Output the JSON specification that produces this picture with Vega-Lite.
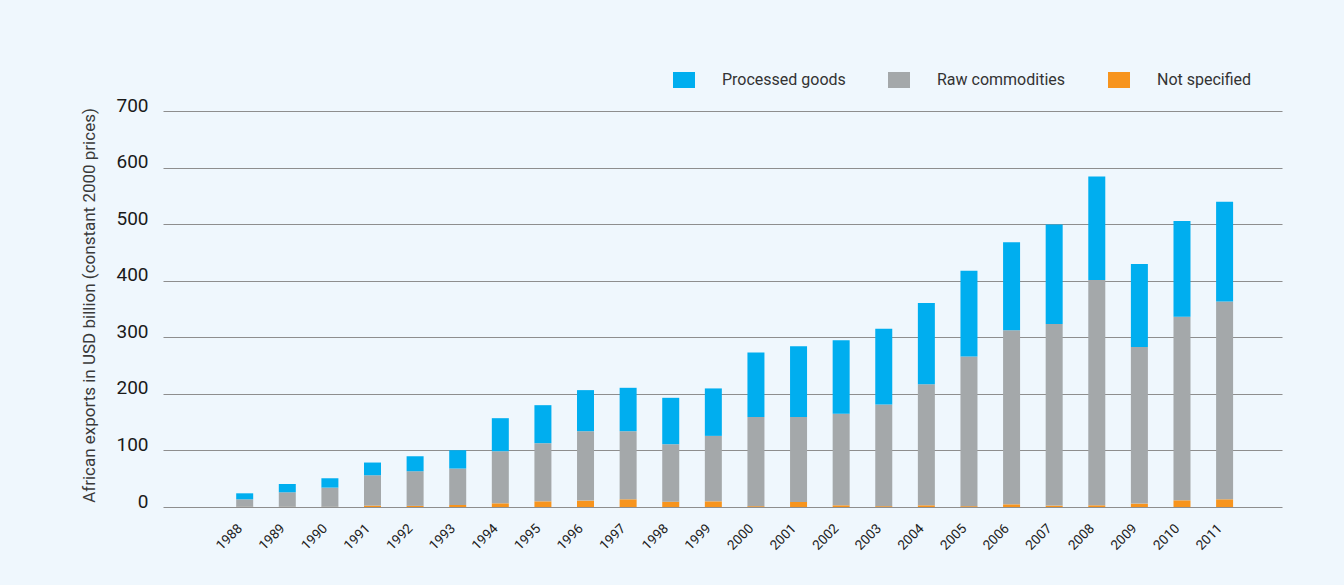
{
  "$schema": "https://vega.github.io/schema/vega-lite/v6.json",
  "autosize": {"type": "none"},
  "width": 1119,
  "height": 396,
  "padding": {"left": 163, "top": 111, "right": 62, "bottom": 78},
  "background": "#eff7fd",
  "config": {
    "view": {"stroke": null},
    "font": "Roboto"
  },
  "data": {
    "values": [
      {"year": 1988, "type": "Not specified", "value": 0.3},
      {"year": 1988, "type": "Raw commodities", "value": 13.3},
      {"year": 1988, "type": "Processed goods", "value": 10.6},
      {"year": 1989, "type": "Not specified", "value": 0.3},
      {"year": 1989, "type": "Raw commodities", "value": 25.7},
      {"year": 1989, "type": "Processed goods", "value": 14.7},
      {"year": 1990, "type": "Not specified", "value": 0.3},
      {"year": 1990, "type": "Raw commodities", "value": 34.0},
      {"year": 1990, "type": "Processed goods", "value": 16.5},
      {"year": 1991, "type": "Not specified", "value": 2.5},
      {"year": 1991, "type": "Raw commodities", "value": 53.6},
      {"year": 1991, "type": "Processed goods", "value": 22.5},
      {"year": 1992, "type": "Not specified", "value": 2.0},
      {"year": 1992, "type": "Raw commodities", "value": 61.2},
      {"year": 1992, "type": "Processed goods", "value": 26.5},
      {"year": 1993, "type": "Not specified", "value": 3.5},
      {"year": 1993, "type": "Raw commodities", "value": 64.5},
      {"year": 1993, "type": "Processed goods", "value": 32.4},
      {"year": 1994, "type": "Not specified", "value": 6.5},
      {"year": 1994, "type": "Raw commodities", "value": 92.1},
      {"year": 1994, "type": "Processed goods", "value": 58.4},
      {"year": 1995, "type": "Not specified", "value": 10.0},
      {"year": 1995, "type": "Raw commodities", "value": 102.8},
      {"year": 1995, "type": "Processed goods", "value": 67.2},
      {"year": 1996, "type": "Not specified", "value": 11.3},
      {"year": 1996, "type": "Raw commodities", "value": 122.7},
      {"year": 1996, "type": "Processed goods", "value": 72.6},
      {"year": 1997, "type": "Not specified", "value": 13.6},
      {"year": 1997, "type": "Raw commodities", "value": 120.4},
      {"year": 1997, "type": "Processed goods", "value": 76.7},
      {"year": 1998, "type": "Not specified", "value": 9.5},
      {"year": 1998, "type": "Raw commodities", "value": 101.5},
      {"year": 1998, "type": "Processed goods", "value": 82.0},
      {"year": 1999, "type": "Not specified", "value": 10.0},
      {"year": 1999, "type": "Raw commodities", "value": 115.7},
      {"year": 1999, "type": "Processed goods", "value": 83.9},
      {"year": 2000, "type": "Not specified", "value": 1.5},
      {"year": 2000, "type": "Raw commodities", "value": 157.8},
      {"year": 2000, "type": "Processed goods", "value": 114.0},
      {"year": 2001, "type": "Not specified", "value": 9.0},
      {"year": 2001, "type": "Raw commodities", "value": 150.0},
      {"year": 2001, "type": "Processed goods", "value": 125.0},
      {"year": 2002, "type": "Not specified", "value": 3.0},
      {"year": 2002, "type": "Raw commodities", "value": 162.0},
      {"year": 2002, "type": "Processed goods", "value": 129.6},
      {"year": 2003, "type": "Not specified", "value": 1.5},
      {"year": 2003, "type": "Raw commodities", "value": 179.8},
      {"year": 2003, "type": "Processed goods", "value": 133.7},
      {"year": 2004, "type": "Not specified", "value": 3.0},
      {"year": 2004, "type": "Raw commodities", "value": 213.8},
      {"year": 2004, "type": "Processed goods", "value": 143.8},
      {"year": 2005, "type": "Not specified", "value": 1.5},
      {"year": 2005, "type": "Raw commodities", "value": 264.7},
      {"year": 2005, "type": "Processed goods", "value": 151.6},
      {"year": 2006, "type": "Not specified", "value": 4.7},
      {"year": 2006, "type": "Raw commodities", "value": 307.6},
      {"year": 2006, "type": "Processed goods", "value": 155.7},
      {"year": 2007, "type": "Not specified", "value": 2.5},
      {"year": 2007, "type": "Raw commodities", "value": 320.9},
      {"year": 2007, "type": "Processed goods", "value": 175.8},
      {"year": 2008, "type": "Not specified", "value": 3.0},
      {"year": 2008, "type": "Raw commodities", "value": 398.3},
      {"year": 2008, "type": "Processed goods", "value": 182.9},
      {"year": 2009, "type": "Not specified", "value": 6.0},
      {"year": 2009, "type": "Raw commodities", "value": 276.7},
      {"year": 2009, "type": "Processed goods", "value": 146.9},
      {"year": 2010, "type": "Not specified", "value": 11.8},
      {"year": 2010, "type": "Raw commodities", "value": 324.5},
      {"year": 2010, "type": "Processed goods", "value": 169.4},
      {"year": 2011, "type": "Not specified", "value": 13.6},
      {"year": 2011, "type": "Raw commodities", "value": 349.8},
      {"year": 2011, "type": "Processed goods", "value": 176.0}
    ]
  },
  "transform": [
    {"calculate": "indexof(['Not specified', 'Raw commodities', 'Processed goods'], datum.type)", "as": "stackOrder"}
  ],
  "mark": {"type": "bar", "width": 17},
  "encoding": {
    "x": {
      "field": "year",
      "type": "quantitative",
      "scale": {"domain": [1986.2, 2012.23], "nice": false, "zero": false},
      "axis": {
        "title": null,
        "values": [1988, 1989, 1990, 1991, 1992, 1993, 1994, 1995, 1996, 1997, 1998, 1999, 2000, 2001, 2002, 2003, 2004, 2005, 2006, 2007, 2008, 2009, 2010, 2011],
        "format": "d",
        "labelAngle": -45,
        "labelAlign": "right",
        "labelBaseline": "middle",
        "labelPadding": 19,
        "labelOffset": -5,
        "labelFontSize": 13.5,
        "labelColor": "#222222",
        "labelOverlap": false,
        "labelFlush": false,
        "ticks": false,
        "domain": false,
        "grid": false
      }
    },
    "y": {
      "field": "value",
      "type": "quantitative",
      "stack": "zero",
      "scale": {"domain": [0, 700], "nice": false},
      "axis": {
        "title": "African exports in USD billion (constant 2000 prices)",
        "titleFontSize": 17,
        "titleFontWeight": "normal",
        "titleColor": "#3a3a3a",
        "titleAngle": -90,
        "titleX": -69,
        "titleY": 194,
        "titleAlign": "center",
        "titleBaseline": "alphabetic",
        "values": [0, 100, 200, 300, 400, 500, 600, 700],
        "labelFontSize": 19,
        "labelColor": "#1a1a1a",
        "labelBaseline": "alphabetic",
        "labelPadding": 15,
        "ticks": false,
        "domain": false,
        "grid": true,
        "gridColor": "#8e8e8e",
        "gridWidth": 1.2
      }
    },
    "color": {
      "field": "type",
      "type": "nominal",
      "scale": {
        "domain": ["Processed goods", "Raw commodities", "Not specified"],
        "range": ["#00aeef", "#a4a8aa", "#f7941d"]
      },
      "legend": {
        "title": null,
        "orient": "none",
        "direction": "horizontal",
        "legendX": 510,
        "legendY": -42,
        "padding": 0,
        "symbolType": "M-1,-0.727H1V0.727H-1Z",
        "symbolSize": 484,
        "symbolStrokeWidth": 0,
        "symbolOpacity": 1,
        "labelFontSize": 16,
        "labelColor": "#333333",
        "labelOffset": 27,
        "columnPadding": 42
      }
    },
    "order": {"field": "stackOrder", "type": "quantitative"}
  }
}
